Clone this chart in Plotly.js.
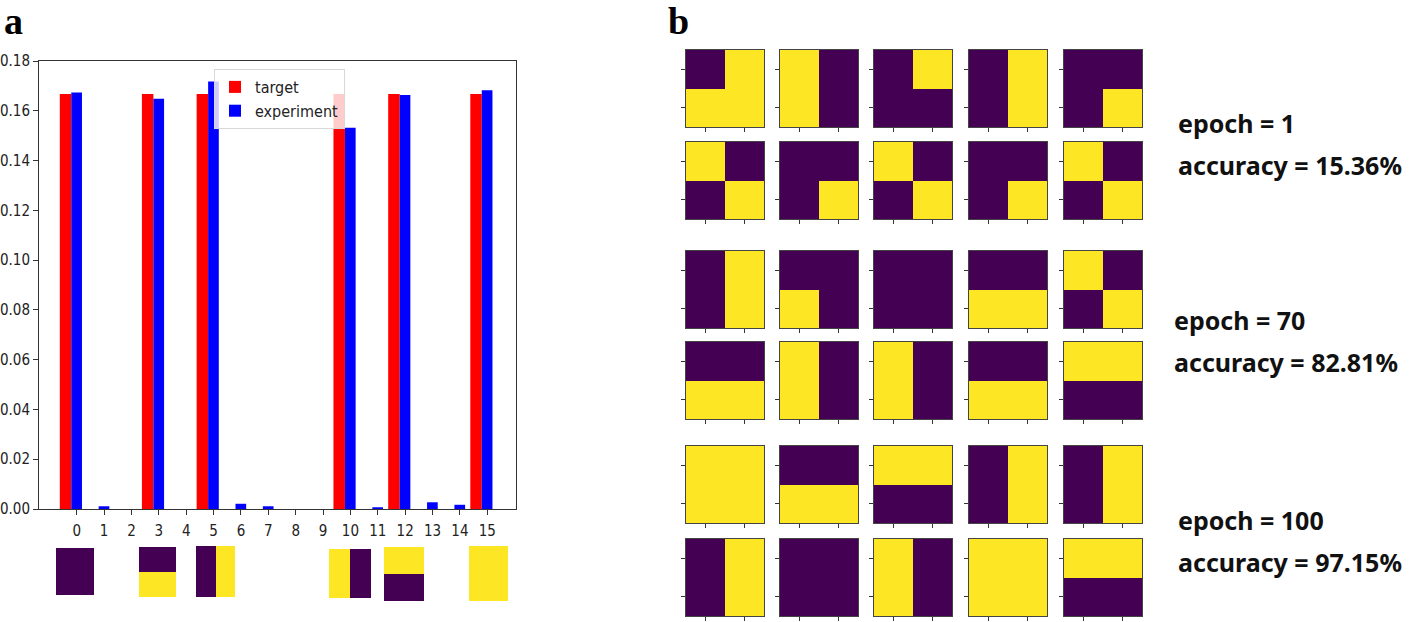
<!DOCTYPE html>
<html>
<head>
<meta charset="utf-8">
<script src="https://cdn.plot.ly/plotly-3.0.1.min.js"></script>
<style>
  html, body { margin: 0; padding: 0; background: #fff; }
  #chart { width: 1415px; height: 622px; }
</style>
</head>
<body>
<div id="chart"></div>
<script>
// panel a: probability of each 2x2 state
const states = [0, 1, 2, 3, 4, 5, 6, 7, 8, 9, 10, 11, 12, 13, 14, 15]
const target = [0.1667, 0, 0, 0.1667, 0, 0.1667, 0, 0, 0, 0, 0.1667, 0, 0.1667, 0, 0, 0.1667]
const experiment = [0.1673, 0.0011, 0, 0.1648, 0, 0.1718, 0.0021, 0.0011, 0, 0, 0.1532, 0.0007, 0.1663, 0.0027, 0.0017, 0.1682]
const y_ticks = [0, 0.02, 0.04, 0.06, 0.08, 0.10, 0.12, 0.14, 0.16, 0.18]

// target states drawn under the bars
const target_states = [0, 3, 5, 10, 12, 15]

// panel b: generated samples (state code, bits TL TR BL BR), one row per line
const samples_epoch1 = [[7, 10, 4, 5, 1], [9, 1, 9, 1, 9]]
const samples_epoch70 = [[5, 2, 0, 3, 9], [3, 10, 10, 3, 12]]
const samples_epoch100 = [[15, 3, 12, 5, 5], [5, 0, 10, 15, 12]]
const epochs = [1, 70, 100]
const accuracies = ['15.36%', '82.81%', '97.15%']

const W = 1415, H = 622
const PURPLE = '#440154', YELLOW = '#fde725'
const TICK_FONT = { family: 'DejaVu Sans Condensed, DejaVu Sans', size: 15, color: '#222' }

function px(x) { return x / W }
function py(y) { return 1 - y / H }

function to_grid(code) {
    let b = [(code >> 3) & 1, (code >> 2) & 1, (code >> 1) & 1, code & 1]
    return [[b[0], b[1]], [b[2], b[3]]]
}

let data = [
    {
        x: states, y: target, type: 'bar', name: 'target',
        marker: { color: '#ff0000' }, width: 0.42, offset: -0.62
    },
    {
        x: states, y: experiment, type: 'bar', name: 'experiment',
        marker: { color: '#0000ff' }, width: 0.39, offset: -0.2
    }
]

let layout = {
    width: W, height: H,
    margin: { l: 0, r: 0, t: 0, b: 0 },
    paper_bgcolor: '#fff', plot_bgcolor: '#fff',
    showlegend: true,
    legend: {
        x: px(214), y: py(69), xanchor: 'left', yanchor: 'top',
        bgcolor: 'rgba(255,255,255,0.8)', bordercolor: '#d8d8d8', borderwidth: 1,
        font: { family: 'DejaVu Sans Condensed, DejaVu Sans', size: 16, color: '#222' }
    },
    xaxis: {
        domain: [px(39), px(516)], range: [-1.38, 16.05],
        tickvals: states, ticktext: states.map(String),
        ticks: 'outside', ticklen: 5, tickcolor: '#333', ticklabelstandoff: 3,
        showline: true, mirror: true, linecolor: '#333', linewidth: 1,
        showgrid: false, zeroline: false,
        tickfont: TICK_FONT
    },
    yaxis: {
        domain: [py(509), py(61)], range: [0, 0.18],
        tickvals: y_ticks, tickformat: '.2f',
        ticks: 'outside', ticklen: 5, tickcolor: '#333',
        showline: true, mirror: true, linecolor: '#333', linewidth: 1,
        showgrid: false, zeroline: false,
        tickfont: TICK_FONT
    },
    annotations: [
        { text: 'a', x: px(2), y: py(21), xref: 'paper', yref: 'paper', xanchor: 'left', yanchor: 'middle',
          showarrow: false, font: { family: 'Liberation Serif', size: 38, color: '#000', weight: 'bold' } },
        { text: 'b', x: px(666), y: py(21), xref: 'paper', yref: 'paper', xanchor: 'left', yanchor: 'middle',
          showarrow: false, font: { family: 'Liberation Serif', size: 38, color: '#000', weight: 'bold' } }
    ]
}

let n = 2
function add_map(code, box, with_ticks) {
    let xa = 'xaxis' + n, ya = 'yaxis' + n
    data.push({
        z: to_grid(code), x: [0, 1], y: [0, 1], type: 'heatmap',
        xaxis: 'x' + n, yaxis: 'y' + n,
        colorscale: [[0, PURPLE], [1, YELLOW]], zmin: 0, zmax: 1,
        showscale: false, hoverinfo: 'skip'
    })
    let common = {
        tickvals: [0, 1], showticklabels: false,
        ticks: with_ticks ? 'outside' : '', ticklen: 4, tickcolor: '#333',
        showline: with_ticks, mirror: true, linecolor: '#444', linewidth: 1,
        showgrid: false, zeroline: false, fixedrange: true
    }
    layout[xa] = Object.assign({}, common, {
        domain: [px(box[0]), px(box[1])], range: [-0.5, 1.5], anchor: 'y' + n
    })
    layout[ya] = Object.assign({}, common, {
        domain: [py(box[3]), py(box[2])], range: [1.5, -0.5], anchor: 'x' + n
    })
    n++
}

// pictures of the target states under panel a
const under_boxes = [[56, 94, 548, 595], [139, 176, 547, 597], [196, 235, 546, 597],
                     [329, 371, 549, 598], [384, 424, 547, 601], [469, 508, 546, 601]]
target_states.forEach((s, i) => add_map(s, under_boxes[i], false))

// panel b grid
const col_x = [686, 780, 874, 969, 1064]
const row_y = [50, 142, 251, 342, 446, 539]
const all_rows = [].concat(samples_epoch1, samples_epoch70, samples_epoch100)
all_rows.forEach((row, r) => {
    row.forEach((s, c) => add_map(s, [col_x[c], col_x[c] + 78, row_y[r], row_y[r] + 77], true))
})

// epoch / accuracy labels
const label_pos = [[1176, 123, 165], [1172, 320, 362], [1176, 520, 562]]
epochs.forEach((e, i) => {
    let p = label_pos[i]
    let f = { family: 'Noto Sans', size: 25, color: '#111', weight: 'bold' }
    layout.annotations.push({ text: 'epoch = ' + e, x: px(p[0]), y: py(p[1]), xref: 'paper', yref: 'paper',
        xanchor: 'left', yanchor: 'middle', showarrow: false, font: f })
    layout.annotations.push({ text: 'accuracy = ' + accuracies[i], x: px(p[0]), y: py(p[2]), xref: 'paper', yref: 'paper',
        xanchor: 'left', yanchor: 'middle', showarrow: false, font: f })
})

Plotly.newPlot('chart', data, layout, { displayModeBar: false, staticPlot: true })
</script>
</body>
</html>
